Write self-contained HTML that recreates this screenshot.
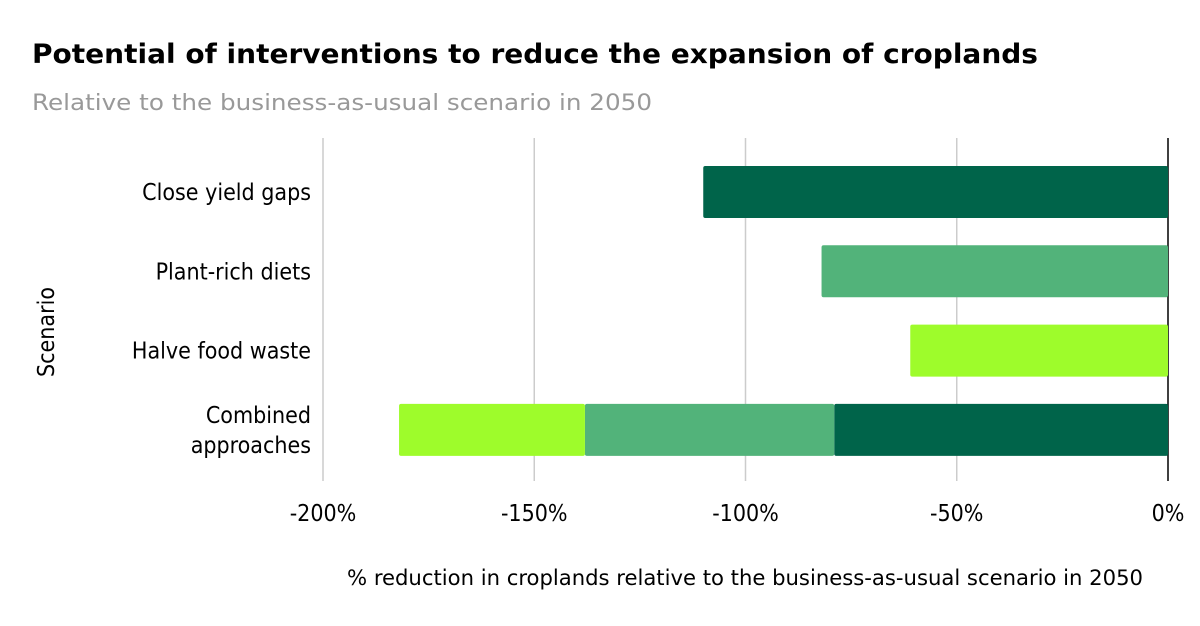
<!DOCTYPE html>
<html><head><meta charset="utf-8"><style>
body{margin:0;background:#fff;font-family:"DejaVu Sans Condensed","DejaVu Sans","Liberation Sans",sans-serif;}
</style></head><body>
<svg width="1200" height="622" xmlns="http://www.w3.org/2000/svg" id="svg">
<text x="32" y="63" font-size="27" font-weight="bold" fill="#000" font-family="DejaVu Sans, sans-serif" textLength="1006" lengthAdjust="spacingAndGlyphs">Potential of interventions to reduce the expansion of croplands</text>
<text x="32" y="110" font-size="22" fill="#999" font-family="DejaVu Sans, sans-serif" textLength="620" lengthAdjust="spacingAndGlyphs">Relative to the business-as-usual scenario in 2050</text>
<g id="grid"></g><g id="bars"></g><g id="ylabels"></g><g id="xlabels"></g>
<text x="0" y="0" transform="translate(54,332) rotate(-90)" text-anchor="middle" font-size="23">Scenario</text>
<text x="745" y="585" text-anchor="middle" font-size="21" textLength="796" lengthAdjust="spacingAndGlyphs">% reduction in croplands relative to the business-as-usual scenario in 2050</text>
</svg>
<script>
const categories=[["Close yield gaps"],["Plant-rich diets"],["Halve food waste"],["Combined","approaches"]];
const yieldVals=[-110,0,0,-79];
const dietVals=[0,-82,0,-59];
const wasteVals=[0,0,-61,-44];
const ticks=[-200,-150,-100,-50,0];
const tickLabels=["-200%","-150%","-100%","-50%","0%"];
const colors=["#00644a","#52b37a","#9efc2b"];
const NS="http://www.w3.org/2000/svg";
const x=v=>1168+(v/200)*845;
const rowY=i=>166+i*79.3;
const bh=52;
function mk(t,a,p){const e=document.createElementNS(NS,t);for(const k in a)e.setAttribute(k,a[k]);p.appendChild(e);return e;}
const grid=document.getElementById('grid');
ticks.forEach((t,i)=>{
 const l=mk('line',{x1:x(t),x2:x(t),y1:138,y2:481,stroke:t===0?'#000':'#ccc','stroke-width':1.5},grid);
 
 
 const tx=mk('text',{x:x(t),y:521,'text-anchor':'middle','font-size':23},document.getElementById('xlabels'));
 tx.textContent=tickLabels[i];
 
 
});
const bars=document.getElementById('bars');
const series=[yieldVals,dietVals,wasteVals];
categories.forEach((c,i)=>{
 let cum=0;
 series.forEach((s,j)=>{
  const v=s[i]; if(!v)return;
  const x0=x(cum), x1=x(cum+v); cum+=v;
  const r=mk('rect',{x:x1,y:rowY(i),width:x0-x1,height:bh,fill:colors[j],rx:2},bars);
  
  
 });
 const tx=mk('text',{x:311,'text-anchor':'end','font-size':23},document.getElementById('ylabels'));
 
 
 const cy=rowY(i)+bh/2;
 c.forEach((line,k)=>{const ts=mk('tspan',{x:311,y:cy+8+(k-(c.length-1)/2)*30},tx);ts.textContent=line;});
});
</script>
</body></html>
